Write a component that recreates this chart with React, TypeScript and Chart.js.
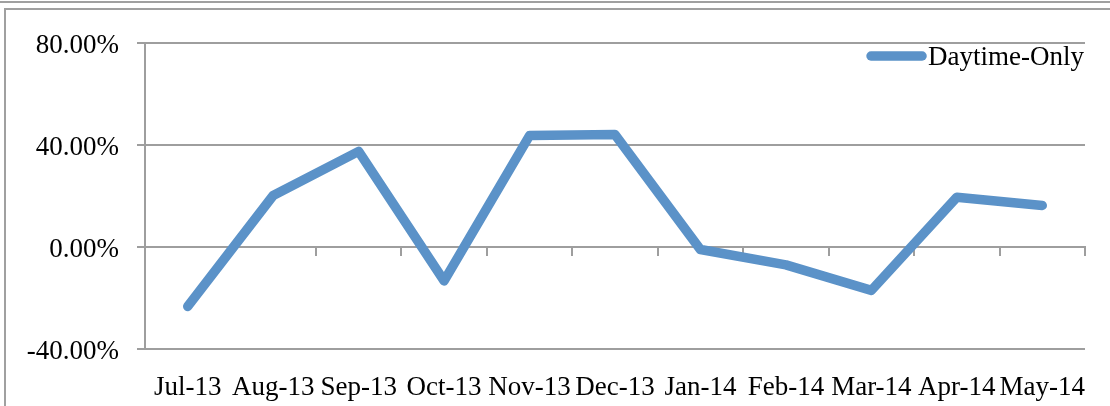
import React, { useEffect, useRef } from "react";
import { Chart, registerables } from "chart.js";

Chart.register(...registerables);

const categories = ["Jul-13", "Aug-13", "Sep-13", "Oct-13", "Nov-13", "Dec-13", "Jan-14", "Feb-14", "Mar-14", "Apr-14", "May-14"];
const daytimeOnly = [-23.3, 20.2, 37.5, -13.3, 43.7, 44.1, -1.0, -7.0, -17.0, 19.5, 16.3];
const seriesName = "Daytime-Only";
const yMin = -40;
const yMax = 80;
const yStep = 40;

const FONT = "Liberation Serif";
const FONT_SIZE = 27;
const GRID = "#9e9e9e";
const LINE = "#5b92c8";

const legendPlugin = {
  id: "insideLegend",
  afterDraw(chart: any) {
    const { ctx, chartArea } = chart;
    const ds = chart.data.datasets[0];
    ctx.save();
    ctx.font = `${FONT_SIZE}px "${FONT}"`;
    const w = ctx.measureText(ds.label).width;
    const textX = chartArea.right - 1 - w;
    ctx.fillStyle = "#000";
    ctx.textBaseline = "middle";
    ctx.textAlign = "left";
    ctx.fillText(ds.label, textX, chartArea.top + 15);
    ctx.strokeStyle = ds.borderColor;
    ctx.lineWidth = ds.borderWidth;
    ctx.lineCap = "round";
    ctx.beginPath();
    const end = textX - 6;
    ctx.moveTo(end - 51, chartArea.top + 13);
    ctx.lineTo(end, chartArea.top + 13);
    ctx.stroke();
    ctx.restore();
  },
};

export default function App() {
  const ref = useRef<HTMLCanvasElement>(null);
  useEffect(() => {
    if (!ref.current) return;
    const chart = new Chart(ref.current, {
      type: "line",
      data: {
        labels: categories,
        datasets: [
          {
            label: seriesName,
            data: daytimeOnly,
            borderColor: LINE,
            backgroundColor: LINE,
            borderWidth: 9.5,
            pointRadius: 0,
            tension: 0,
            borderCapStyle: "round",
            borderJoinStyle: "round",
            xAxisID: "x",
            yAxisID: "y",
          } as any,
        ],
      },
      options: {
        animation: false,
        responsive: false,
        maintainAspectRatio: false,
        layout: { padding: { left: 0, right: 25, top: 43, bottom: 0 } },
        plugins: { legend: { display: false }, tooltip: { enabled: false } },
        scales: {
          x: {
            type: "category",
            position: "bottom",
            offset: true,
            grid: { display: false },
            border: { display: false },
            ticks: { font: { family: FONT, size: FONT_SIZE }, color: "#000", padding: 15, maxRotation: 0, autoSkip: false },
            afterFit: (scale: any) => {
              scale.height = 57;
            },
          },
          x2: {
            type: "category",
            axis: "x",
            labels: categories,
            position: { y: 0 },
            offset: true,
            grid: { drawOnChartArea: false, drawTicks: true, tickLength: 8, color: GRID, lineWidth: 2, offset: true },
            border: { display: true, color: GRID, width: 2 },
            ticks: { display: false },
          } as any,
          y: {
            type: "linear",
            position: "left",
            min: yMin,
            max: yMax,
            ticks: {
              stepSize: yStep,
              font: { family: FONT, size: FONT_SIZE },
              color: "#000",
              padding: 18,
              labelOffset: 3,
              callback: (v: any) => Number(v).toFixed(2) + "%",
            },
            grid: { color: GRID, lineWidth: 2, tickLength: 8, drawTicks: true },
            border: { display: true, color: GRID, width: 2 },
            afterFit: (scale: any) => {
              scale.width = 145;
            },
          },
        },
      },
      plugins: [legendPlugin],
    });
    return () => chart.destroy();
  }, []);

  return (
    <div style={{ position: "absolute", left: 0, top: 0, width: 1110, height: 406, background: "#fff", overflow: "hidden" }}>
      <div style={{ position: "absolute", left: 0, top: 1, width: 1110, height: 2, background: "#a0a0a0" }} />
      <div style={{ position: "absolute", left: 4, top: 8, width: 1106, height: 2, background: "#a0a0a0" }} />
      <div style={{ position: "absolute", left: 4, top: 8, width: 2, height: 398, background: "#a0a0a0" }} />
      <canvas ref={ref} width={1110} height={406} style={{ position: "absolute", left: 0, top: 0, display: "block" }} />
    </div>
  );
}
